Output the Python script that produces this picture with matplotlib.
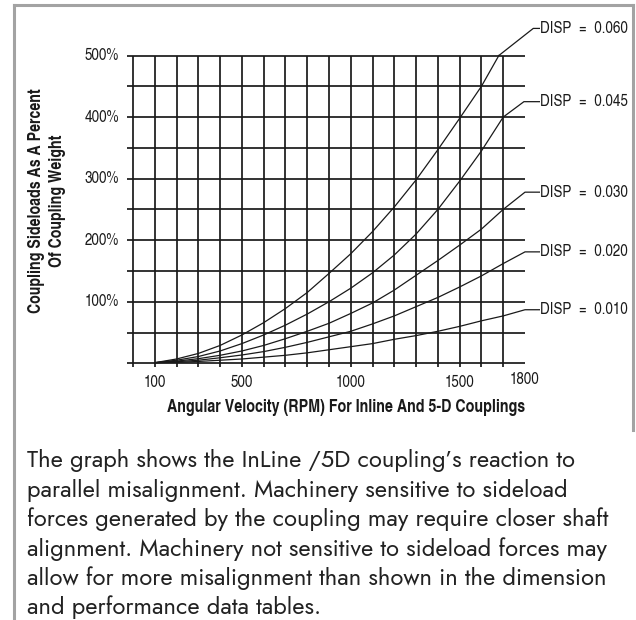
import matplotlib.pyplot as plt
from matplotlib.lines import Line2D

# RPM steps
rpm = [100, 200, 300, 400, 500, 600, 700, 800, 900, 1000,
       1100, 1200, 1300, 1400, 1500, 1600, 1700]
rpm_060 = [100, 200, 300, 400, 500, 600, 700, 800, 900, 1000,
           1100, 1200, 1300, 1400, 1500, 1600, 1680]

# sideload as percent of coupling weight
disp_010 = [1, 1.5, 3, 5, 7, 10, 13, 17, 22, 27, 32, 39, 45, 52, 60, 69, 77]
disp_020 = [1, 2.5, 5, 9, 13.5, 19, 26, 34, 43, 52, 64, 77, 92, 107, 124, 142, 162]
disp_030 = [1, 3.5, 7.5, 13, 20, 29, 40, 52, 65, 81, 98, 119, 143, 167, 192, 218, 250]
disp_045 = [1, 5, 11, 20, 32, 46, 62, 80, 100, 122, 147, 176, 210, 250, 296, 345, 400]
disp_060 = [1, 7, 16, 29, 46, 66, 89, 115, 146, 178, 214, 254, 298, 347, 398, 450, 500]

labels = ["DISP  =  0.060", "DISP  =  0.045", "DISP  =  0.030",
          "DISP  =  0.020", "DISP  =  0.010"]
label_y = [544, 425, 278, 181, 87]
knee_x = [1838, 1795, 1800, 1800, 1800]

y_ticks = [100, 200, 300, 400, 500]
x_ticks = [100, 500, 1000, 1500, 1800]

para_lines = [
    "The graph shows the InLine /5D coupling\u2019s reaction to",
    "parallel misalignment. Machinery sensitive to sideload",
    "forces generated by the coupling may require closer shaft",
    "alignment. Machinery not sensitive to sideload forces may",
    "allow for more misalignment than shown in the dimension",
    "and performance data tables.",
]

cond = ['TeX Gyre Heros Cn', 'DejaVu Sans']
ink = '#1a1a1a'

fig = plt.figure(figsize=(6.36, 6.2), dpi=100)
W, H = 636, 620
ax = fig.add_axes([133 / W, 1 - 363.3 / H, 392 / W, (363.3 - 55.5) / H])
ax.set_xlim(0, 1800)
ax.set_ylim(0, 500)
ax.axis('off')

# grid
for v in range(0, 501, 50):
    ax.plot([-28, 1800], [v, v], color=ink, lw=1.25, clip_on=False,
            solid_capstyle='butt')
for r in range(0, 1701, 100):
    ax.plot([r, r], [-6, 500], color=ink, lw=1.25, clip_on=False,
            solid_capstyle='butt')

# curves + leader lines to the labels
curves = [(rpm_060, disp_060), (rpm, disp_045), (rpm, disp_030),
          (rpm, disp_020), (rpm, disp_010)]
for (xs, ys), lab, ly, kx in zip(curves, labels, label_y, knee_x):
    ax.plot(xs, ys, color=ink, lw=0.9, clip_on=False)
    ax.plot([xs[-1], kx, 1866], [ys[-1], ly, ly], color=ink, lw=0.9,
            clip_on=False)
    ax.text(1870, ly, lab, family=cond, fontsize=11.8, ha='left',
            va='center', color=ink, clip_on=False)

# tick labels
for v in y_ticks:
    ax.text(-64, v, f"{v}%", family=cond, fontsize=11.8, ha='right',
            va='center', color=ink, clip_on=False)
for r in x_ticks:
    yy = -27 if r == 1800 else -32
    ax.text(r, yy, str(r), family=cond, fontsize=11.8, ha='center',
            va='center', color=ink, clip_on=False)

fig.text(346.5 / W, 1 - 408 / H,
         "Angular Velocity (RPM) For Inline And 5-D Couplings",
         family=cond, fontsize=12.5, fontweight='bold', ha='center',
         va='center', color=ink)
fig.text(47 / W, 1 - 201 / H,
         "Coupling Sideloads As A Percent\nOf Coupling Weight",
         family=cond, fontsize=12.4, fontweight='bold', ha='center',
         va='center', rotation=90, multialignment='center',
         linespacing=1.3, color=ink)

# paragraph under the chart
for i, line in enumerate(para_lines):
    fig.text(27 / W, 1 - (461 + 29.3 * i) / H, line, family='Jost',
             fontsize=17.1, ha='left', va='center', color='#222222')

# frame
gray = '#a3a3a3'
fig.add_artist(Line2D([14 / W, 633 / W], [1 - 5 / H, 1 - 5 / H],
                      color=gray, lw=2.2, transform=fig.transFigure))
fig.add_artist(Line2D([14 / W, 14 / W], [1 - 5 / H, 0],
                      color=gray, lw=2.2, transform=fig.transFigure))
fig.add_artist(Line2D([633 / W, 633 / W], [1 - 5 / H, 1 - 430 / H],
                      color=gray, lw=2.2, transform=fig.transFigure))

fig.savefig("out.png", dpi=100)
